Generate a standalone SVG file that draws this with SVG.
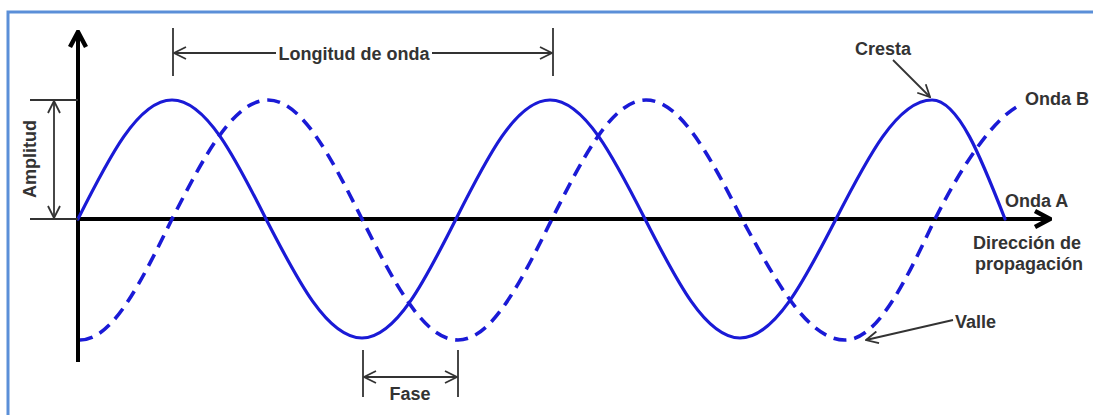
<svg xmlns="http://www.w3.org/2000/svg" width="1093" height="415" viewBox="0 0 1093 415">
<defs>
<style>
.lbl{font-family:"Liberation Sans",Arial,sans-serif;font-weight:bold;font-size:18px;fill:#333}
.dim{stroke:#333;stroke-width:1.8;fill:none}
.axis{stroke:#000;stroke-width:4;fill:none}
.waveA{stroke:#1a1ad6;stroke-width:3.2;fill:none;stroke-linecap:round}
.waveB{stroke:#1a1ad6;stroke-width:3.6;fill:none;stroke-dasharray:13 8}
</style>
<marker id="chev" viewBox="0 0 14 14" refX="13" refY="7" markerWidth="14" markerHeight="14" markerUnits="userSpaceOnUse" orient="auto-start-reverse">
<path d="M1,1 L13,7 L1,13" fill="none" stroke="#333" stroke-width="1.8"/>
</marker>
<marker id="axchev" viewBox="0 0 20 20" refX="18" refY="10" markerWidth="20" markerHeight="20" markerUnits="userSpaceOnUse" orient="auto">
<path d="M3,2 L18,10 L3,18" fill="none" stroke="#000" stroke-width="4.5" stroke-linejoin="miter"/>
</marker>
</defs>
<rect x="8" y="12" width="1100" height="420" fill="#fff" stroke="#5b8fd8" stroke-width="3"/>

<g id="axes">
<line class="axis" x1="78" y1="362" x2="78" y2="32" marker-end="url(#axchev)"/>
<line class="axis" x1="78" y1="219" x2="1050" y2="219" marker-end="url(#axchev)"/>
</g>

<g id="onda-a">
<path class="waveA" d="M78,219 C108.7,158 138,100 172,100 C206,100 235.3,158 266,219 C297.3,280 327.3,338 362,338 C396,338 425.3,280 456,219 C486.7,158 516,100 550,100 C584.4,100 614,158 645,219 C676,280 705.6,338 740,338 C774.7,338 804.7,280 836,219 C867.3,158 897.3,100 932,100 C958.4,100 981.2,158 1005,219"/>
</g>

<g id="onda-b">
<path class="waveB" d="M80,340 C113.3,340 142,280 172,219 C203.3,158 233.3,100 268,100 C302,100 331.3,158 362,219 C393.3,281 423.3,340 458,340 C492,340 521.3,281 552,219 C582.7,158 612,100 646,100 C680.7,100 710.7,158 742,219 C775.6,281 807.7,340 845,340 C877.6,340 905.7,281 935,219 C966,158 995,118 1020,105"/>
</g>

<g id="connectors">
<line class="dim" x1="30" y1="100" x2="78" y2="100"/>
<line class="dim" x1="30" y1="219" x2="78" y2="219"/>
<line class="dim" x1="54" y1="101" x2="54" y2="218" marker-start="url(#chev)" marker-end="url(#chev)"/>
<line class="dim" x1="173" y1="28" x2="173" y2="76"/>
<line class="dim" x1="553" y1="28" x2="553" y2="76"/>
<line class="dim" x1="174" y1="53" x2="276" y2="53" marker-start="url(#chev)"/>
<line class="dim" x1="432" y1="53" x2="552" y2="53" marker-end="url(#chev)"/>
<line class="dim" x1="363" y1="350" x2="363" y2="397"/>
<line class="dim" x1="458" y1="350" x2="458" y2="397"/>
<line class="dim" x1="364" y1="377" x2="457" y2="377" marker-start="url(#chev)" marker-end="url(#chev)"/>
<line class="dim" x1="893" y1="60" x2="930" y2="97" marker-end="url(#chev)"/>
<line class="dim" x1="953" y1="320" x2="866" y2="340" marker-end="url(#chev)"/>
</g>

<g id="label-amplitud"><text class="lbl" transform="translate(36,159) rotate(-90)" text-anchor="middle">Amplitud</text></g>
<g id="label-longitud"><text class="lbl" x="354" y="60" text-anchor="middle">Longitud de onda</text></g>
<g id="label-fase"><text class="lbl" x="410" y="400" text-anchor="middle">Fase</text></g>
<g id="label-cresta"><text class="lbl" x="855" y="55">Cresta</text></g>
<g id="label-ondab"><text class="lbl" x="1025" y="105">Onda B</text></g>
<g id="label-ondaa"><text class="lbl" x="1005" y="207">Onda A</text></g>
<g id="label-direccion"><text class="lbl" x="973" y="249">Dirección de</text><text class="lbl" x="975" y="270">propagación</text></g>
<g id="label-valle"><text class="lbl" x="955" y="328">Valle</text></g>
</svg>
